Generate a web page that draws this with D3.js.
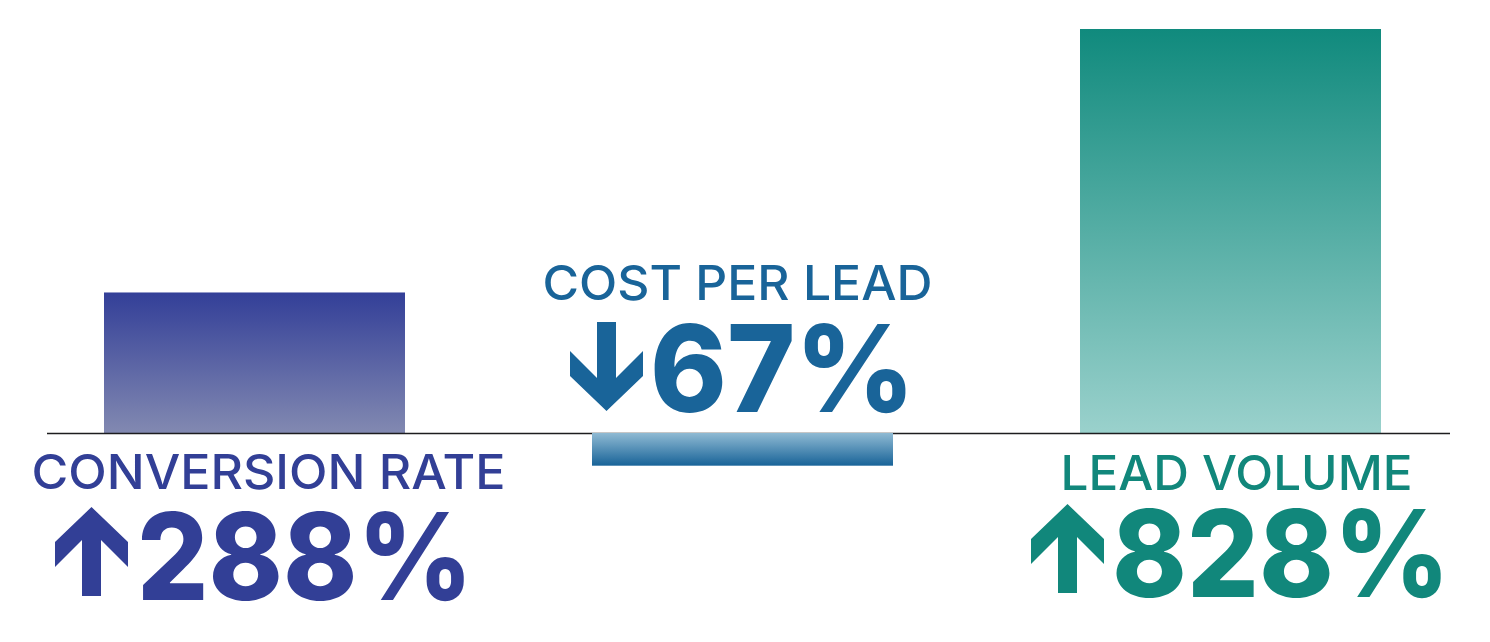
<!DOCTYPE html>
<html>
<head>
<meta charset="utf-8">
<script src="https://cdn.jsdelivr.net/npm/d3@7"></script>
<style>
  html, body { margin: 0; padding: 0; background: #ffffff; }
  svg { display: block; }
</style>
</head>
<body>
<svg id="chart" width="1490" height="642"></svg>
<script>
// ---- data ----
const categories   = ["CONVERSION RATE", "COST PER LEAD", "LEAD VOLUME"];
const values       = [288, -67, 828];
const valueLabels  = ["288%", "67%", "828%"];
const directions   = ["up", "down", "up"];

// ---- styles ----
const textColors = ["#323f96", "#196499", "#11877b"];
const gradStops  = [
  ["#333f98", "#8289b1"],
  ["#8fbad3", "#186398"],
  ["#108a7d", "#9ad1cc"]
];

// ---- layout (label placement, ink boxes) ----
const titleLayout = [
  { left: 34,   right: 503,  base: 489 },
  { left: 545,  right: 930,  base: 300 },
  { left: 1063, right: 1410, base: 490 }
];
const numberLayout = [
  { arrowX: 55,   arrowY: 507, left: 142,  right: 468,  base: 600 },
  { arrowX: 570,  arrowY: 322, left: 655,  right: 910,  base: 412 },
  { arrowX: 1031, arrowY: 504, left: 1117, right: 1445, base: 597 }
];

const svg = d3.select("#chart");
const W = 1490;

const x = d3.scaleBand()
  .domain(categories)
  .range([104, 1381])
  .paddingInner(0.3832)
  .paddingOuter(0);

const y = d3.scaleLinear()
  .domain([0, d3.max(values)])
  .range([433, 29]);

const data = categories.map((c, i) => ({ cat: c, v: values[i], label: valueLabels[i], dir: directions[i], i }));

// gradients
const defs = svg.append("defs");
data.forEach(d => {
  const g = defs.append("linearGradient")
    .attr("id", "grad" + d.i)
    .attr("x1", 0).attr("y1", 0).attr("x2", 0).attr("y2", 1);
  g.append("stop").attr("offset", "0%").attr("stop-color", gradStops[d.i][0]);
  g.append("stop").attr("offset", "100%").attr("stop-color", gradStops[d.i][1]);
});

function drawBars(sel) {
  svg.append("g").selectAll("rect")
    .data(sel)
    .join("rect")
    .attr("x", d => x(d.cat))
    .attr("width", x.bandwidth())
    .attr("y", d => Math.min(y(d.v), y(0)))
    .attr("height", d => Math.abs(y(d.v) - y(0)))
    .attr("fill", d => `url(#grad${d.i})`);
}

drawBars(data.filter(d => d.v >= 0));

// baseline
svg.append("line")
  .attr("x1", 47).attr("x2", 1450)
  .attr("y1", y(0) + 0.5).attr("y2", y(0) + 0.5)
  .attr("stroke", "#1d1d1f")
  .attr("stroke-width", 1.6);

drawBars(data.filter(d => d.v < 0));

// titles
const titleSize = 48, titleSb = 2.5;
svg.append("g").selectAll("text")
  .data(data)
  .join("text")
  .attr("x", d => titleLayout[d.i].left - titleSb)
  .attr("y", d => titleLayout[d.i].base)
  .attr("textLength", d => titleLayout[d.i].right - titleLayout[d.i].left + 2 * titleSb)
  .attr("lengthAdjust", "spacingAndGlyphs")
  .attr("font-family", "Inter, 'Open Sans', sans-serif")
  .attr("font-weight", 500)
  .attr("font-size", titleSize)
  .attr("fill", d => textColors[d.i])
  .text(d => d.cat);

// numbers
const numSize = 121, numSb = 5;
svg.append("g").selectAll("text")
  .data(data)
  .join("text")
  .attr("x", d => numberLayout[d.i].left - numSb)
  .attr("y", d => numberLayout[d.i].base)
  .attr("textLength", d => numberLayout[d.i].right - numberLayout[d.i].left + 2 * numSb)
  .attr("lengthAdjust", "spacingAndGlyphs")
  .attr("font-family", "Inter, 'Open Sans', sans-serif")
  .attr("font-weight", 800)
  .attr("font-size", numSize)
  .attr("fill", d => textColors[d.i])
  .text(d => d.label);

// arrows (width 73, height 89)
function arrowPath(dir) {
  const pts = [[36.5,0],[73,35],[73,60],[46,33],[46,89],[27,89],[27,33],[0,60],[0,35]];
  const p = dir === "up" ? pts : pts.map(([a, b]) => [a, 89 - b]);
  return "M" + p.map(q => q.join(",")).join("L") + "Z";
}
svg.append("g").selectAll("path")
  .data(data)
  .join("path")
  .attr("transform", d => `translate(${numberLayout[d.i].arrowX},${numberLayout[d.i].arrowY})`)
  .attr("d", d => arrowPath(d.dir))
  .attr("fill", d => textColors[d.i]);
</script>
</body>
</html>
